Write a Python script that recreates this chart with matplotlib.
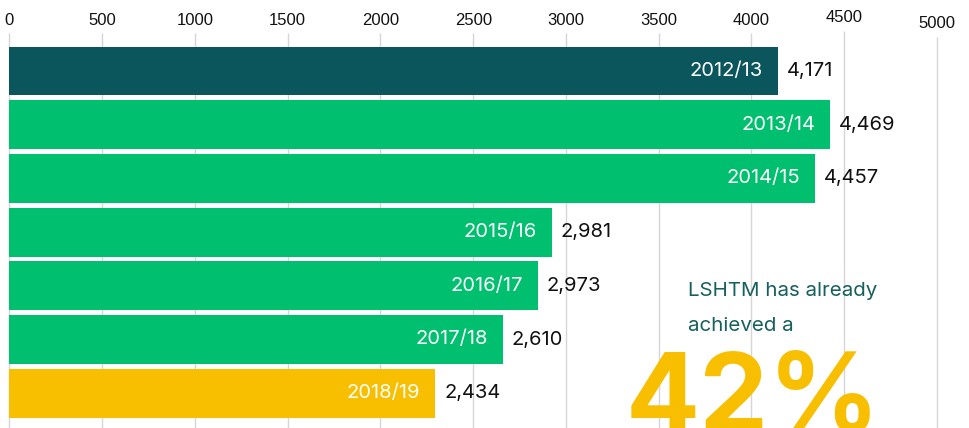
import matplotlib.pyplot as plt

years = ["2012/13", "2013/14", "2014/15", "2015/16", "2016/17", "2017/18", "2018/19"]
values = [4171, 4469, 4457, 2981, 2973, 2610, 2434]
# bar lengths as drawn in the original, read against its gridlines
bar_lengths = [4143, 4423, 4342, 2924, 2849, 2659, 2294]
bar_colors = ["#0b565d", "#00c06f", "#00c06f", "#00c06f", "#00c06f", "#00c06f", "#f8be00"]
ticks = [0, 500, 1000, 1500, 2000, 2500, 3000, 3500, 4000, 4500, 5000]

W, H = 970, 428
fig = plt.figure(figsize=(W / 100, H / 100), dpi=100)
ax = fig.add_axes([0, 0, 1, 1])

# pixel layout helpers
x0, px_per_unit = 9.5, 0.1855
y_first, pitch = 71.0, 53.7


def py(pix):
    # pixel row -> data y (bar index units)
    return (pix - y_first) / pitch


ax.set_xlim(-x0 / px_per_unit, (W - x0) / px_per_unit)
ax.set_ylim(py(H), py(0))
ax.axis("off")

# grid + tick labels (the last two sit a little off in the original)
label_rows = {4500: 17.5, 5000: 23.5}
grid_tops = {4500: 31, 5000: 37}
for t in ticks:
    ax.vlines(t, py(grid_tops.get(t, 33)), py(H), color="#d6d6d6", lw=1, zorder=0)
    ax.text(t, py(label_rows.get(t, 20.5)), str(t), ha="center", va="center",
            fontsize=12, family="Liberation Sans", color="#111111")

ax.barh(range(len(years)), bar_lengths, height=0.91, color=bar_colors, zorder=2)

for i, (yr, v, L) in enumerate(zip(years, values, bar_lengths)):
    ax.text(L - 15 / px_per_unit, i, yr, ha="right", va="center", color="white",
            fontsize=14.5, family="Inter", zorder=3)
    ax.text(L + 9 / px_per_unit, i, f"{v:,}", ha="left", va="center", color="#111111",
            fontsize=14.5, family="Inter", zorder=3)

ax.text(688 / W, 1 - 291 / H, "LSHTM has already", transform=fig.transFigure,
        ha="left", va="center", fontsize=14.8, family="Inter", color="#17605f")
ax.text(688 / W, 1 - 326 / H, "achieved a", transform=fig.transFigure,
        ha="left", va="center", fontsize=14.8, family="Inter", color="#17605f")
ax.text(626 / W, 1 - 432 / H, "42%", transform=fig.transFigure,
        ha="left", va="baseline", fontsize=79, family="Inter", weight="bold",
        color="#f8be00")

fig.savefig("out.png", dpi=100)
